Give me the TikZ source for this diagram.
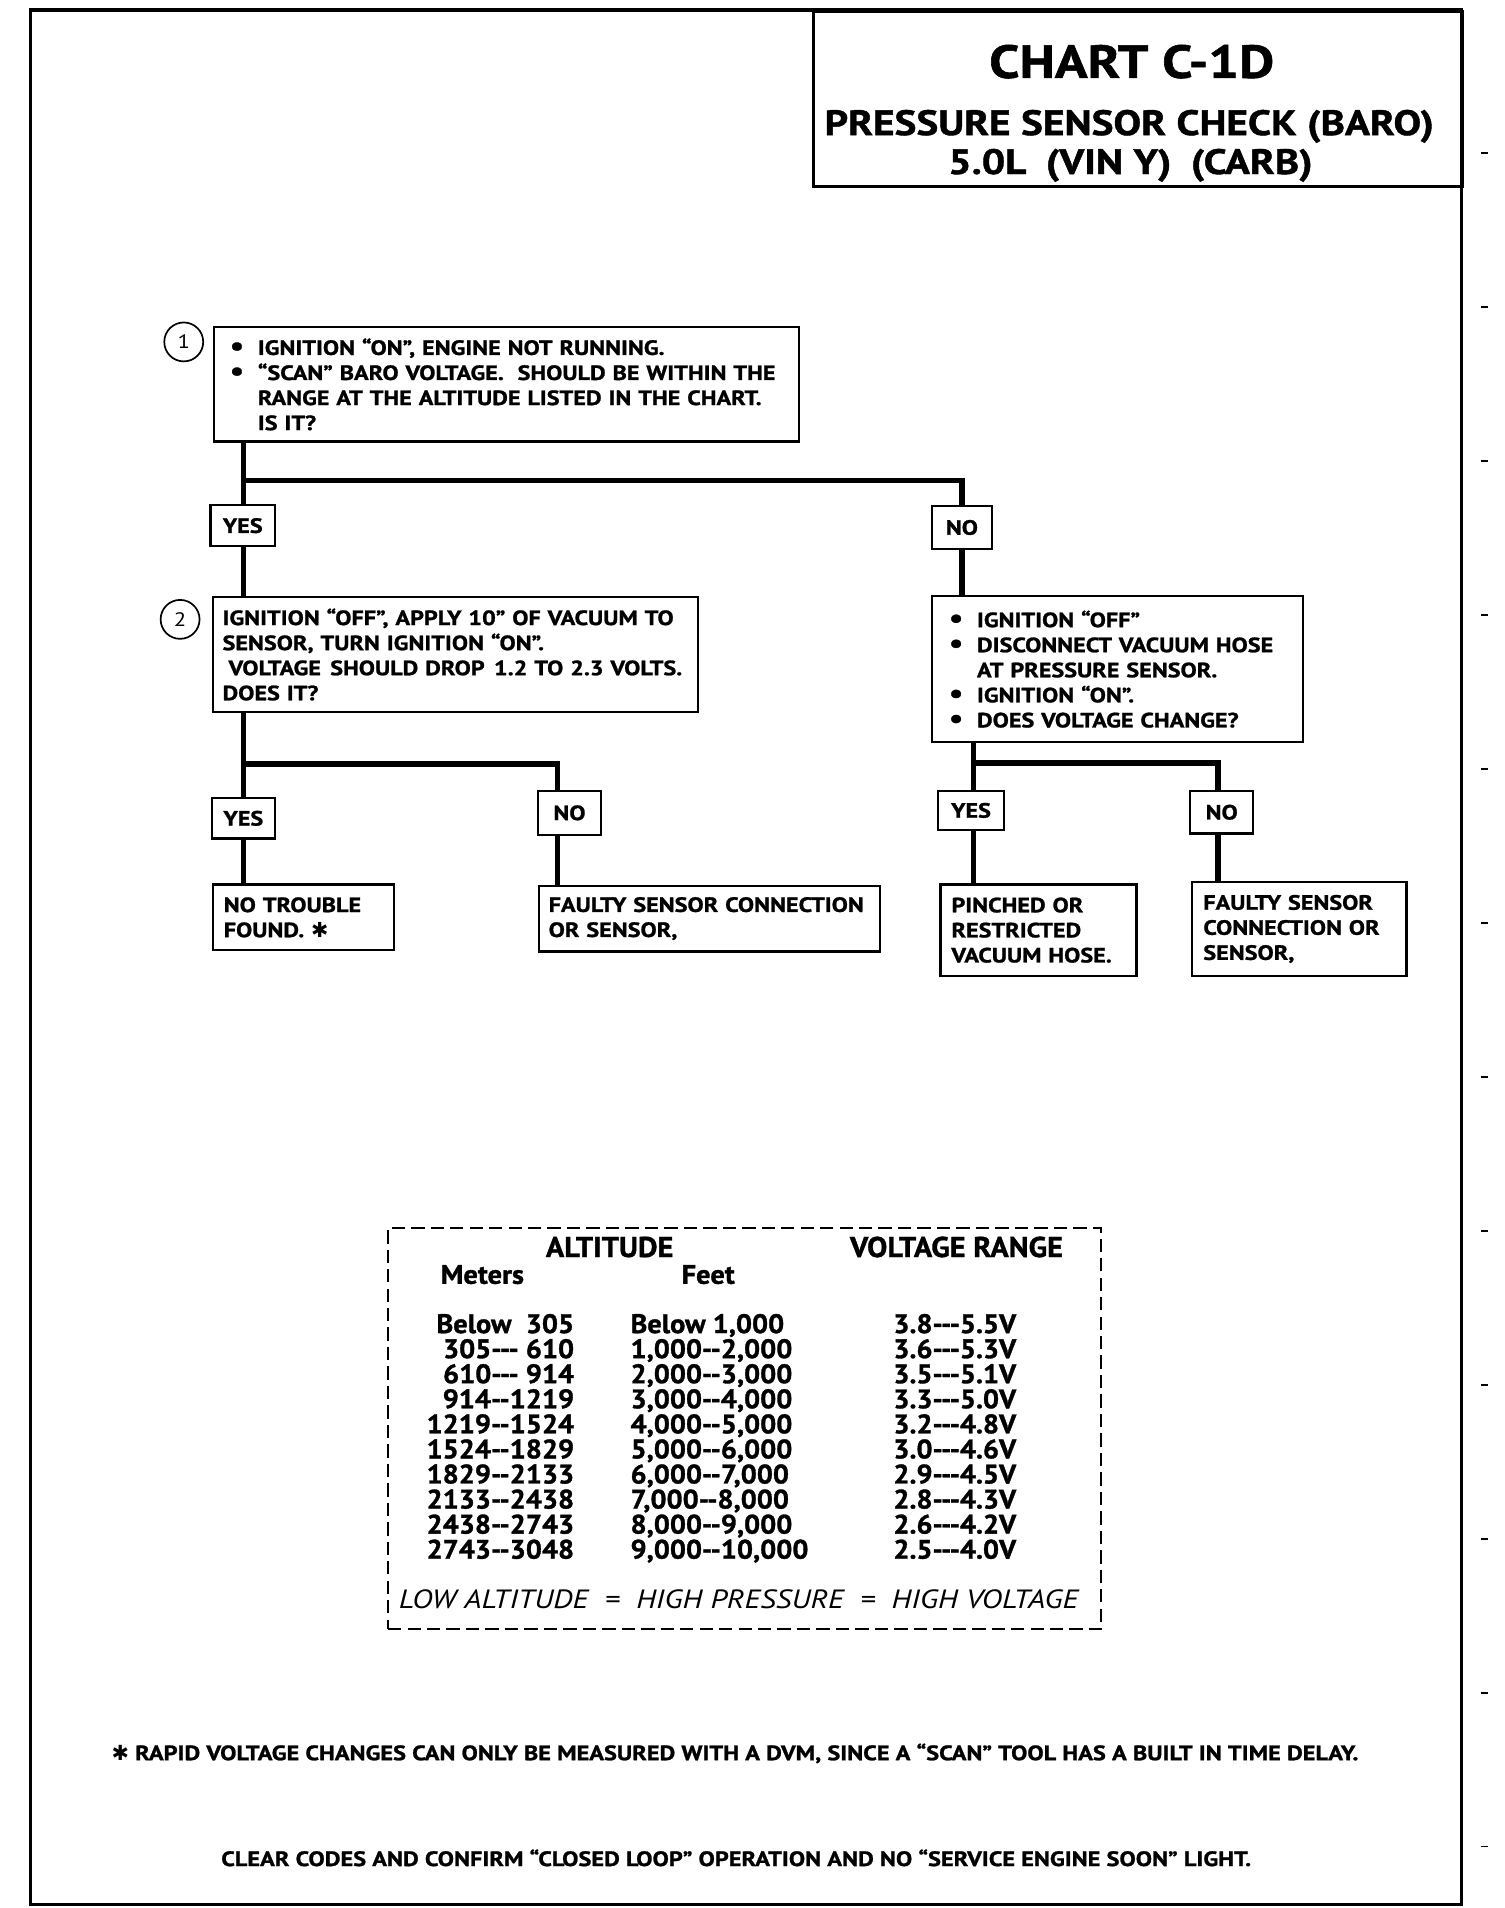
\documentclass[tikz,border=0pt]{standalone}
\usepackage{fontspec}
\setmainfont{PT Sans}[FakeStretch=1.17, BoldFeatures={FakeBold=1.2}]
\newfontfamily\tabfam{PT Sans}[FakeStretch=1.06, BoldFeatures={FakeBold=1.2}]
\newfontfamily\djv{DejaVu Sans}
\newcommand{\boxf}{\fontsize{17}{20.6}\selectfont\bfseries}
\newcommand{\tabf}{\tabfam\fontsize{22}{22}\selectfont\bfseries}
\newcommand{\bul}{\makebox[23pt][l]{\scalebox{1.3}{\textbullet}}}
\newcommand{\ind}{\hspace*{23pt}}
\newcommand{\astk}{{\djv ✱}}
\newcommand{\trow}[4]{%
  \node[tabt, anchor=base east] (m#1) at (472,{1095.5+20.6*#1}) {#2};
  \node[tabt, anchor=base west] (f#1) at (518,{1095.5+20.6*#1}) {#3};
  \node[tabt, anchor=base west] (v#1) at (734,{1095.5+20.6*#1}) {#4};}
\begin{document}
\begin{tikzpicture}[x=1pt,y=-1pt,
  box/.style={draw, line width=1.8pt, anchor=north west, inner ysep=0pt, align=left, font=\boxf},
  lbl/.style={draw, line width=1.8pt, font=\boxf, inner sep=0pt},
  conn/.style={line width=4.5pt, line join=miter},
  num/.style={draw, circle, line width=1.4pt, minimum size=32pt, inner sep=0pt, font=\fontsize{16}{16}\selectfont},
  tabt/.style={font=\tabf, inner sep=0pt},
  tabh/.style={font=\tabfam\fontsize{23.5}{23.5}\selectfont\bfseries, inner sep=0pt},
  foot/.style={font=\fontsize{17.1}{17.1}\selectfont\bfseries, inner sep=0pt}]
\fill[white] (0,0) rectangle (1236,1568);
\useasboundingbox (0,0) rectangle (1236,1568);
% frame
\draw[line width=3pt] (25,8) rectangle (1201,1565);
\foreach \k in {0,...,11} \draw[line width=1.5pt] (1217,{126+126.5*\k}) -- (1223,{126+126.5*\k});
% title
\node[draw, line width=2.5pt, anchor=north west, minimum width=534pt, minimum height=144pt] (title) at (667,8) {};
\node[anchor=base, inner sep=0pt, font=\fontsize{38.1}{38.1}\selectfont\bfseries] (t1) at (930,64) {CHART C-1D};
\node[anchor=base, inner sep=0pt, font=\fontsize{29}{29}\selectfont\bfseries] (t2) at (928,111) {PRESSURE SENSOR CHECK (BARO)};
\node[anchor=base, inner sep=0pt, font=\fontsize{29}{29}\selectfont\bfseries] (t3) at (929,143) {5.0L\hspace{0.55em}(VIN Y)\hspace{0.55em}(CARB)};
% step 1
\node[num] (n1) at (151,281) {1};
\node[box, inner xsep=13pt, minimum width=481pt, minimum height=94pt, text width=455pt] (b1) at (175,268)
 {\bul IGNITION “ON”, ENGINE NOT RUNNING.\\
  \bul “SCAN” BARO VOLTAGE.\ \ SHOULD BE WITHIN THE\\
  \ind RANGE AT THE ALTITUDE LISTED IN THE CHART.\\
  \ind IS IT?};
\node[lbl, minimum width=53pt, minimum height=34pt] (yes1) at (199.5,432) {YES};
\node[lbl, minimum width=49pt, minimum height=35pt] (no1) at (790.5,433.5) {NO};
% step 2
\node[num] (n2) at (148,509) {2};
\node[box, inner xsep=8pt, minimum width=399pt, minimum height=94pt, text width=383pt] (b2) at (174,490)
 {\mbox{IGNITION “OFF”, APPLY 10” OF VACUUM TO}\\
  \mbox{SENSOR, TURN IGNITION “ON”.}\\
  \mbox{\hspace*{5pt}VOLTAGE\hspace{0.45em}SHOULD DROP\hspace{0.45em}1.2 TO 2.3 VOLTS.}\\
  \mbox{DOES IT?}};
% step 3 (right)
\node[box, inner xsep=14pt, minimum width=305pt, minimum height=120pt, text width=277pt] (b3) at (765,489)
 {\bul IGNITION “OFF”\\
  \bul DISCONNECT VACUUM HOSE\\
  \ind AT PRESSURE SENSOR.\\
  \bul IGNITION “ON”.\\
  \bul DOES VOLTAGE CHANGE?};
\node[lbl, minimum width=52pt, minimum height=33pt] (yes2) at (200,672.5) {YES};
\node[lbl, minimum width=52pt, minimum height=36pt] (no2) at (468,668) {NO};
\node[lbl, minimum width=54pt, minimum height=32pt] (yes3) at (798,666) {YES};
\node[lbl, minimum width=52pt, minimum height=35pt] (no3) at (1004,667.5) {NO};
% results
\node[box, inner xsep=9pt, minimum width=149pt, minimum height=54pt, text width=131pt] (nt) at (174,726)
 {NO TROUBLE\\ FOUND. \astk};
\node[box, inner xsep=8pt, minimum width=280pt, minimum height=54pt, text width=264pt] (fs1) at (442,727)
 {FAULTY SENSOR CONNECTION\\ OR SENSOR,};
\node[box, inner xsep=9pt, minimum width=161pt, minimum height=75pt, text width=143pt] (pr) at (772,726)
 {PINCHED OR\\ RESTRICTED\\ VACUUM HOSE.};
\node[box, inner xsep=9pt, minimum width=176pt, minimum height=77pt, text width=158pt] (fs2) at (979,724)
 {FAULTY SENSOR\\ CONNECTION OR\\ SENSOR,};
% connectors
\coordinate (j1) at (200,395);
\coordinate (j2) at (200,628);
\coordinate (k2) at (458,628);
\coordinate (j3) at (800,627);
\coordinate (k3) at (1001,627);
\draw[conn] (b1.south -| j1) -- (j1) -| (no1.north);
\draw[conn] (j1) -- (j1 |- yes1.north);
\draw[conn] (yes1.south -| j1) -- (j1 |- b2.north);
\draw[conn] (no1.south) -- (no1.south |- b3.north);
\draw[conn] (b2.south -| j2) -- (j2) -- (k2) -- (k2 |- no2.north);
\draw[conn] (j2) -- (j2 |- yes2.north);
\draw[conn] (yes2.south -| j2) -- (j2 |- nt.north);
\draw[conn] (no2.south -| k2) -- (k2 |- fs1.north);
\draw[conn] (b3.south -| j3) -- (j3) -- (k3) -- (k3 |- no3.north);
\draw[conn] (j3) -- (j3 |- yes3.north);
\draw[conn] (yes3.south -| j3) -- (j3 |- pr.north);
\draw[conn] (no3.south -| k3) -- (k3 |- fs2.north);
% table
\node[draw, dash pattern=on 11pt off 5pt, line width=1.8pt, anchor=north west, minimum width=586pt, minimum height=330pt] (tbl) at (318,1008) {};
\node[tabh, anchor=base] (hA) at (501,1033) {ALTITUDE};
\node[tabh, anchor=base] (hV) at (786,1033) {VOLTAGE RANGE};
\node[tabt, anchor=base west] (hM) at (362,1055) {Meters};
\node[tabt, anchor=base] (hF) at (582,1055) {Feet};
\trow{0}{Below\ \ 305}{Below 1,000}{3.8-{}-{}-5.5V}
\trow{1}{305-{}-{}- 610}{1,000-{}-2,000}{3.6-{}-{}-5.3V}
\trow{2}{610-{}-{}- 914}{2,000-{}-3,000}{3.5-{}-{}-5.1V}
\trow{3}{914-{}-1219}{3,000-{}-4,000}{3.3-{}-{}-5.0V}
\trow{4}{1219-{}-1524}{4,000-{}-5,000}{3.2-{}-{}-4.8V}
\trow{5}{1524-{}-1829}{5,000-{}-6,000}{3.0-{}-{}-4.6V}
\trow{6}{1829-{}-2133}{6,000-{}-7,000}{2.9-{}-{}-4.5V}
\trow{7}{2133-{}-2438}{7,000-{}-8,000}{2.8-{}-{}-4.3V}
\trow{8}{2438-{}-2743}{8,000-{}-9,000}{2.6-{}-{}-4.2V}
\trow{9}{2743-{}-3048}{9,000-{}-10,000}{2.5-{}-{}-4.0V}
\node[anchor=base, inner sep=0pt, font=\fontsize{21.7}{21.7}\selectfont\itshape] (low) at (607,1322) {LOW ALTITUDE\ \ =\ \ HIGH PRESSURE\ \ =\ \ HIGH VOLTAGE};
% footnotes
\node[foot, anchor=base] (fn) at (604,1446.5) {\astk\ RAPID VOLTAGE CHANGES CAN ONLY BE MEASURED WITH A DVM, SINCE A “SCAN” TOOL HAS A BUILT IN TIME DELAY.};
\node[foot, anchor=base] (cc) at (605,1533.5) {CLEAR CODES AND CONFIRM “CLOSED LOOP” OPERATION AND NO “SERVICE ENGINE SOON” LIGHT.};
\end{tikzpicture}
\end{document}
